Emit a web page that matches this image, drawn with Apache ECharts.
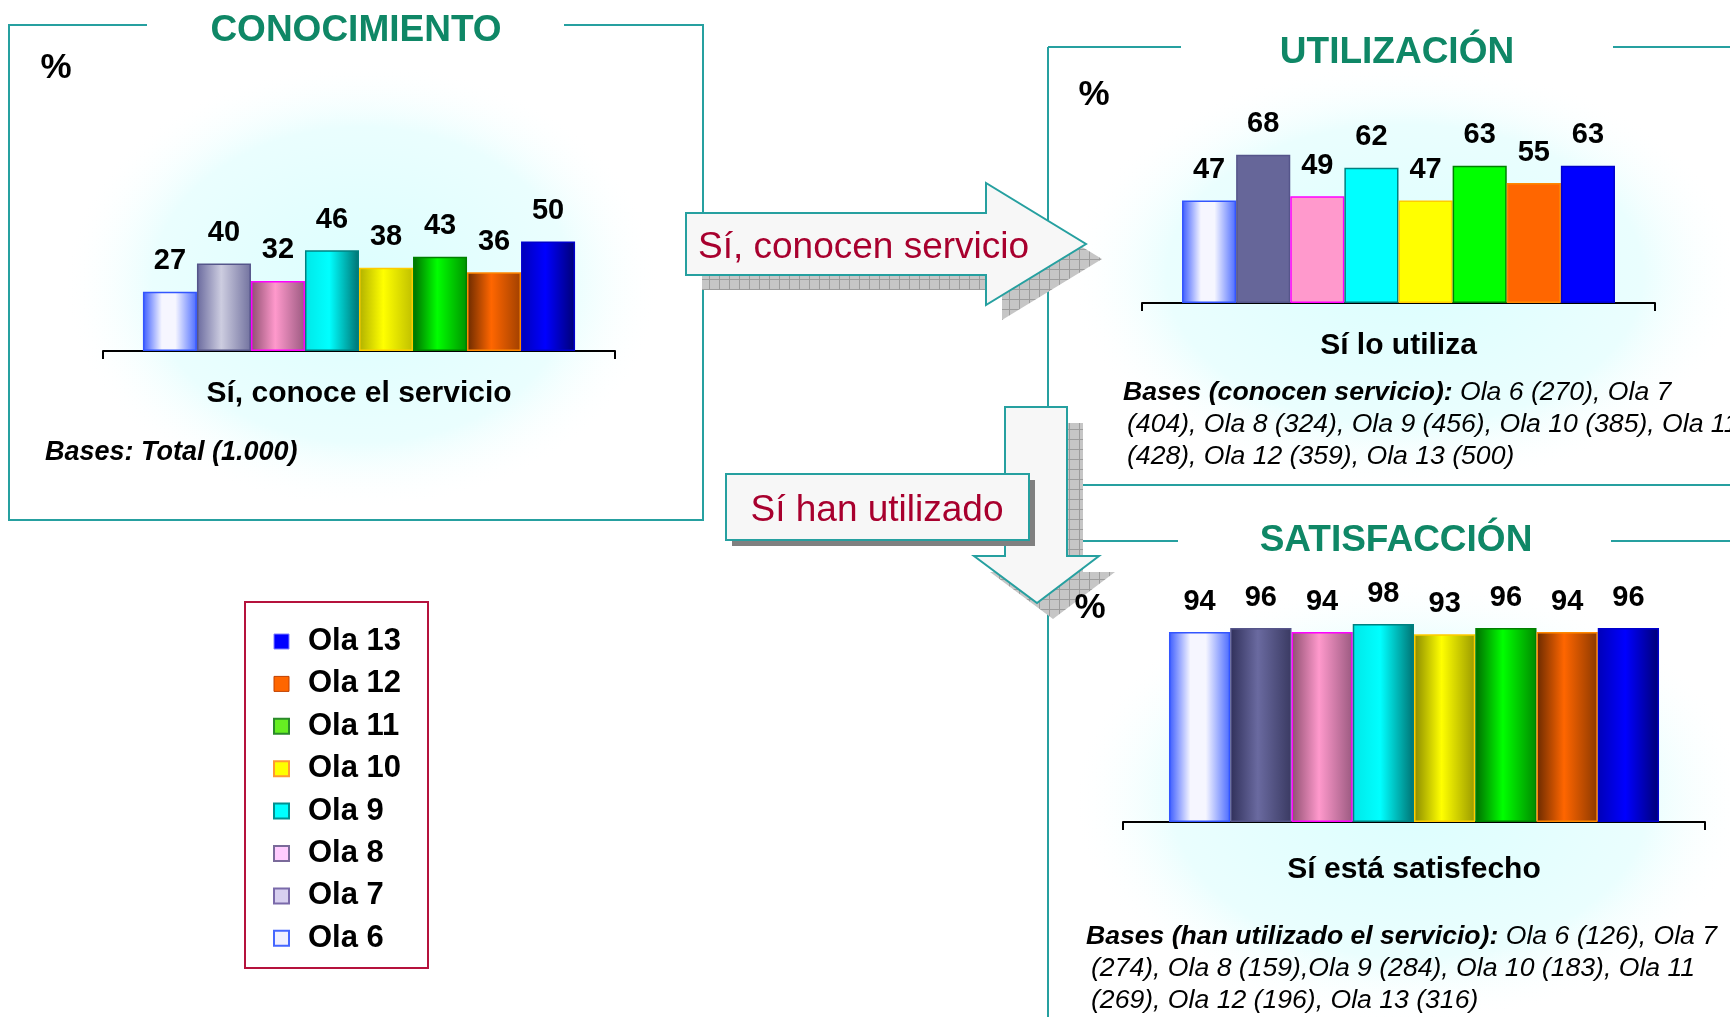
<!DOCTYPE html>
<html>
<head>
<meta charset="utf-8">
<script src="https://cdn.jsdelivr.net/npm/echarts@6/dist/echarts.min.js"></script>
<style>
html,body{margin:0;padding:0;background:#fff;}
#c{width:1730px;height:1017px;}
</style>
</head>
<body>
<div id="c"></div>
<script>
// ---------- DATA ----------
const waves = ['Ola 6','Ola 7','Ola 8','Ola 9','Ola 10','Ola 11','Ola 12','Ola 13'];
const legendOrder = ['Ola 13','Ola 12','Ola 11','Ola 10','Ola 9','Ola 8','Ola 7','Ola 6'];
const categories = ['Sí, conoce el servicio','Sí lo utiliza','Sí está satisfecho'];
const conocimiento = [27,40,32,46,38,43,36,50];
const utilizacion = [47,68,49,62,47,63,55,63];
const satisfaccion = [94,96,94,98,93,96,94,96];
const panelTitles = ['CONOCIMIENTO','UTILIZACIÓN','SATISFACCIÓN'];
const basesConocen = ['Ola 6 (270), Ola 7','(404), Ola 8 (324), Ola 9 (456), Ola 10 (385), Ola 11','(428), Ola 12 (359), Ola 13 (500)'];
const basesUtilizado = ['Ola 6 (126), Ola 7','(274), Ola 8 (159),Ola 9 (284), Ola 10 (183), Ola 11','(269), Ola 12 (196), Ola 13 (316)'];

// ---------- STYLES ----------
const FONT = '"Liberation Sans", Arial, sans-serif';
const TEAL = '#26a0a0';
const TITLE = '#0f8766';
const RED = '#a8002e';
function G(a,b,c){return {type:'linear',x:0,y:0,x2:1,y2:0,colorStops:[{offset:0,color:a},{offset:0.45,color:b},{offset:1,color:c}]};}
const ola6Grad = {type:'linear',x:0,y:0,x2:1,y2:0,colorStops:[{offset:0,color:'#3b5bff'},{offset:0.35,color:'#f6f6ff'},{offset:0.6,color:'#f6f6ff'},{offset:1,color:'#4a6aff'}]};
const shaded1 = [ola6Grad, G('#6a6a9e','#cdcde0','#72729f'), G('#8e4f70','#ff99cc','#9a5a80'), G('#00e8e8','#00ffff','#007272'),
  G('#b0b000','#ffff00','#c0c000'), G('#006c00','#00ff00','#009400'), G('#6a2a00','#ff6600','#a04000'), G('#0000b8','#0000ff','#000075')];
const flat2 = [ola6Grad,'#666699','#ff99cc','#00ffff','#ffff00','#00ff00','#ff6600','#0000ff'];
const shaded3 = [ola6Grad, G('#30305a','#6a6aa0','#3a3a62'), G('#8e4f70','#ff99cc','#9a5a80'), G('#00e8e8','#00ffff','#007272'),
  G('#8a8a00','#ffff00','#9a9a00'), G('#006c00','#00ff00','#008a00'), G('#6a2a00','#ff6600','#8a3800'), G('#0000b8','#0000ff','#000075')];
const borders = ['#3355ff','#55558a','#ff00ff','#008080','#ffcc00','#008000','#ff8800','#0000cc'];
const legendIcons = {
  'Ola 13':{color:'#0000ff',borderColor:'#8080ff',borderWidth:1},
  'Ola 12':{color:'#ff6600',borderColor:'#c04000',borderWidth:1},
  'Ola 11':{color:'#66ee22',borderColor:'#2a8a2a',borderWidth:2},
  'Ola 10':{color:'#ffff00',borderColor:'#ff9933',borderWidth:2},
  'Ola 9':{color:'#00ffff',borderColor:'#009090',borderWidth:2},
  'Ola 8':{color:'#ffccff',borderColor:'#7a6a9a',borderWidth:2},
  'Ola 7':{color:'#d8d0f0',borderColor:'#7a6aaa',borderWidth:2},
  'Ola 6':{color:'#f0f0ff',borderColor:'#4466ff',borderWidth:2}
};

const panels = [
  {values:conocimiento, colors:shaded1, grid:{left:103,top:132,width:512,height:219}, gap:'15.6%', margin:28},
  {values:utilizacion, colors:flat2, grid:{left:1142,top:85,width:513,height:218}, gap:'15.6%', margin:28},
  {values:satisfaccion, colors:shaded3, grid:{left:1123,top:620,width:582,height:202}, gap:'15.8%', margin:33}
];

// hatched pattern for arrow shadows
const pc = document.createElement('canvas'); pc.width = 10; pc.height = 10;
const pctx = pc.getContext('2d');
pctx.fillStyle = '#c6c6c6'; pctx.fillRect(0,0,10,10);
pctx.fillStyle = '#9c9c9c'; pctx.fillRect(9,0,1,10); pctx.fillRect(0,9,10,1);
const hatch = {image: pc, repeat: 'repeat'};

function glow(cx,cy,rx,ry){
  return {type:'circle', x:cx, y:cy, scaleX:rx/ry, scaleY:1, shape:{cx:0,cy:0,r:ry}, silent:true,
    style:{fill:{type:'radial',x:0.5,y:0.5,r:0.5,colorStops:[{offset:0,color:'#dcfefe'},{offset:0.7,color:'#eafefe'},{offset:1,color:'rgba(255,255,255,0)'}]}}};
}
function line(pts){return {type:'polyline', shape:{points:pts}, style:{stroke:TEAL, lineWidth:2, fill:null}};}
function txt(t,x,y,font,fill,align){return {type:'text', x:x, y:y, style:{text:t, font:font, fill:fill||'#000', align:align||'center', verticalAlign:'middle'}};}
function off(pts,dx,dy){return pts.map(p=>[p[0]+dx,p[1]+dy]);}
const BF = 26.6;
const richBases = {b:{fontFamily:FONT,fontSize:BF,fontWeight:'bold',fontStyle:'italic',fill:'#000'}, i:{fontFamily:FONT,fontSize:BF,fontStyle:'italic',fill:'#000'}};
function rtxt(t,x,y){return {type:'text', x:x, y:y, style:{text:t, rich:richBases, font:'italic '+BF+'px '+FONT, fill:'#000', align:'left', verticalAlign:'middle'}};}

const rightArrow = [[686,213],[986,213],[986,183],[1086,244],[986,305],[986,275],[686,275]];
const downArrow = [[1005,407],[1067,407],[1067,556],[1099,556],[1037,603],[974,556],[1005,556]];

const graphics = [
  glow(362,285,300,225),
  glow(1405,275,340,215),
  glow(1410,800,340,225),
  // panel frames
  line([[147,25],[9,25],[9,520],[703,520],[703,25],[564,25]]),
  line([[1048,47],[1048,1017]]),
  line([[1048,47],[1181,47]]), line([[1613,47],[1730,47]]),
  line([[1048,485],[1730,485]]),
  line([[1048,541],[1178,541]]), line([[1611,541],[1730,541]]),
  // titles
  txt(panelTitles[0],356,31,'bold 37px '+FONT,TITLE),
  txt(panelTitles[1],1397,53,'bold 37px '+FONT,TITLE),
  txt(panelTitles[2],1396,541,'bold 37px '+FONT,TITLE),
  // arrows
  {type:'polygon', shape:{points:off(rightArrow,16,15)}, style:{fill:hatch}},
  {type:'polygon', shape:{points:rightArrow}, style:{fill:'#f7f7f7', stroke:TEAL, lineWidth:2}},
  txt('Sí, conocen servicio',698,248,'37px '+FONT,RED,'left'),
  {type:'polygon', shape:{points:off(downArrow,16,16)}, style:{fill:hatch}},
  {type:'polygon', shape:{points:downArrow}, style:{fill:'#f7f7f7', stroke:TEAL, lineWidth:2}},
  {type:'rect', shape:{x:732,y:480,width:303,height:66}, style:{fill:'#808080'}},
  {type:'rect', shape:{x:726,y:474,width:303,height:66}, style:{fill:'#f7f7f7', stroke:TEAL, lineWidth:2}},
  txt('Sí han utilizado',877,511,'37px '+FONT,RED),
  // percent signs
  txt('%',56,68,'bold 35px '+FONT),
  txt('%',1094,95,'bold 35px '+FONT),
  txt('%',1090,608,'bold 35px '+FONT),
  // bases
  {type:'text', x:45, y:453, style:{text:'Bases: Total (1.000)', font:'italic bold 27px '+FONT, fill:'#000', align:'left', verticalAlign:'middle'}},
  rtxt('{b|Bases (conocen servicio):} {i|'+basesConocen[0]+'}',1123,393),
  rtxt('{i|'+basesConocen[1]+'}',1127,425),
  rtxt('{i|'+basesConocen[2]+'}',1127,457),
  rtxt('{b|Bases (han utilizado el servicio):} {i|'+basesUtilizado[0]+'}',1086,937),
  rtxt('{i|'+basesUtilizado[1]+'}',1091,969),
  rtxt('{i|'+basesUtilizado[2]+'}',1091,1001),
  // legend frame
  {type:'rect', shape:{x:245,y:602,width:183,height:366}, style:{fill:null, stroke:'#b5123c', lineWidth:2}}
];

const grids = [], xAxes = [], yAxes = [], series = [];
panels.forEach((p,pi)=>{
  grids.push(p.grid);
  xAxes.push({type:'category', gridIndex:pi, data:[categories[pi]],
    axisLine:{lineStyle:{color:'#000',width:2}},
    axisTick:{show:true,length:8,lineStyle:{color:'#000',width:2}},
    axisLabel:{fontFamily:FONT,fontSize:30,fontWeight:'bold',color:'#000',margin:p.margin}});
  yAxes.push({type:'value', gridIndex:pi, min:0, max:100, show:false, splitLine:{show:false}});
  waves.forEach((w,i)=>{
    series.push({type:'bar', name:w, xAxisIndex:pi, yAxisIndex:pi, data:[p.values[i]],
      barGap:'0%', barCategoryGap:p.gap,
      itemStyle:{color:p.colors[i], borderColor:borders[i], borderWidth:1.5},
      label:{show:true, position:'top', distance:16, fontFamily:FONT, fontSize:29, fontWeight:'bold', color:'#000'}});
  });
});

const chart = echarts.init(document.getElementById('c'));
chart.setOption({
  animation:false,
  backgroundColor:'#ffffff',
  grid:grids, xAxis:xAxes, yAxis:yAxes, series:series,
  legend:{orient:'vertical', left:273, top:626, padding:0, itemWidth:15, itemHeight:15, itemGap:11.4,
    selectedMode:false, icon:'rect',
    textStyle:{fontFamily:FONT, fontSize:31, fontWeight:'bold', color:'#000', lineHeight:30, padding:[0,0,0,14]},
    data:legendOrder.map(n=>({name:n, itemStyle:legendIcons[n]}))},
  graphic:graphics
});
</script>
</body>
</html>
